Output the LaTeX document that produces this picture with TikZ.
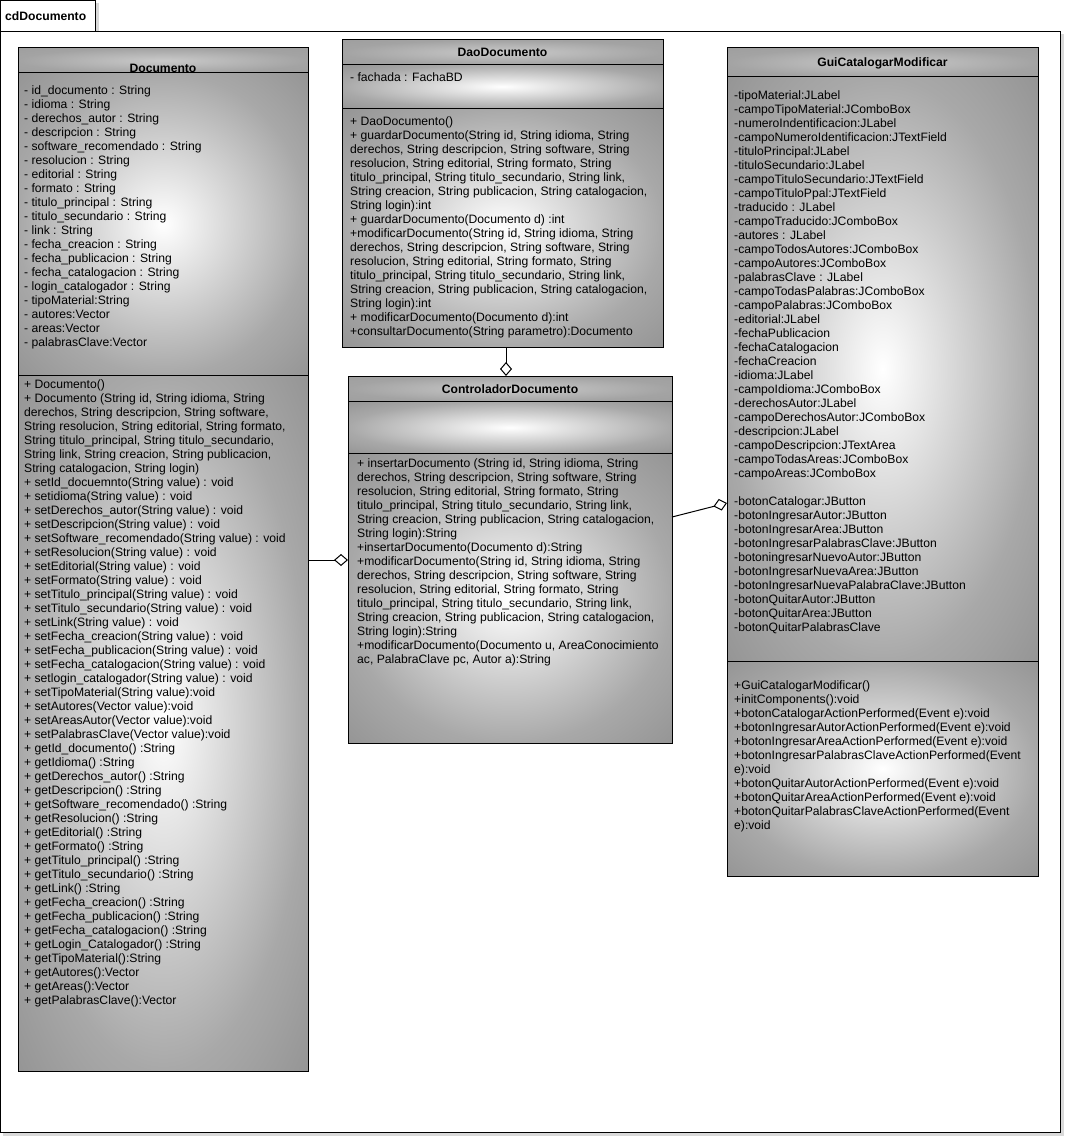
\documentclass[tikz,border=0pt]{standalone}
\usepackage{fontspec}
\setmainfont{Liberation Sans}
\usepackage{tikz}
\usetikzlibrary{arrows.meta,positioning}

\pgfdeclareradialshading{umlglow}{\pgfpoint{0bp}{0bp}}{color(0bp)=(white); color(25bp)=(gray!68); color(36bp)=(gray!84); color(50bp)=(gray!84)}
\pgfdeclareradialshading{umlhead}{\pgfpoint{0bp}{0bp}}{color(0bp)=(gray!42); color(25bp)=(gray!72); color(50bp)=(gray!80)}

\newcommand{\umlfont}{\fontsize{12.15}{14}\selectfont}
\newcommand{\lh}{\rule{0pt}{10pt}}

\tikzset{
    compart/.style={draw, line width=1pt, inner sep=0pt, outer sep=0pt, anchor=north west, shading=umlglow},
    headbox/.style={compart, shading=umlhead},
    members/.style={anchor=north west, inner sep=0pt, align=left, font=\umlfont},
    classname/.style={anchor=base, inner sep=0pt, font=\umlfont\bfseries},
    agg/.style={line width=1pt, -{Diamond[open, length=14pt, width=12pt]}}
}

\begin{document}
\begin{tikzpicture}[x=1pt, y=-1pt]
    \useasboundingbox (0,0) rectangle (1065,1137);
    % frame
    \fill[gray!30] (3,34) rectangle (1064,1136);
    \fill[gray!30] (3,3) rectangle (99,34);
    \draw[line width=1pt, fill=white] (0.5,31.5) rectangle (1060.5,1132.5);
    \draw[line width=1pt, fill=white] (0.5,0.5) rectangle (95.5,31.5);
    \node[anchor=west, inner sep=0pt, font=\umlfont\bfseries] (frameName) at (5,16) {cdDocumento};

    % Documento
    \node[headbox, minimum width=290pt, minimum height=25pt] (docHead) at (18,48) {};
    \node[compart, minimum width=290pt, minimum height=302pt] (docAttr) at (18,73) {};
    \node[compart, minimum width=290pt, minimum height=696pt] (docOps) at (18,375) {};
    \node[classname] (docName) at (163,72.3) {Documento};
    \node[members] (docAttrText) at (24,84) {\lh- id\_documento : String\\
        - idioma : String\\
        - derechos\_autor : String\\
        - descripcion : String\\
        - software\_recomendado : String\\
        - resolucion : String\\
        - editorial : String\\
        - formato : String\\
        - titulo\_principal : String\\
        - titulo\_secundario : String\\
        - link : String\\
        - fecha\_creacion : String\\
        - fecha\_publicacion : String\\
        - fecha\_catalogacion : String\\
        - login\_catalogador : String\\
        - tipoMaterial:String\\
        - autores:Vector\\
        - areas:Vector\\
        - palabrasClave:Vector};
    \node[members] (docOpsText) at (24,378) {\lh+ Documento()\\
        + Documento (String id, String idioma, String\\
        derechos, String descripcion, String software,\\
        String resolucion, String editorial, String formato,\\
        String titulo\_principal, String titulo\_secundario,\\
        String link, String creacion, String publicacion,\\
        String catalogacion, String login)\\
        + setId\_docuemnto(String value) : void\\
        + setidioma(String value) : void\\
        + setDerechos\_autor(String value) : void\\
        + setDescripcion(String value) : void\\
        + setSoftware\_recomendado(String value) : void\\
        + setResolucion(String value) : void\\
        + setEditorial(String value) : void\\
        + setFormato(String value) : void\\
        + setTitulo\_principal(String value) : void\\
        + setTitulo\_secundario(String value) : void\\
        + setLink(String value) : void\\
        + setFecha\_creacion(String value) : void\\
        + setFecha\_publicacion(String value) : void\\
        + setFecha\_catalogacion(String value) : void\\
        + setlogin\_catalogador(String value) : void\\
        + setTipoMaterial(String value):void\\
        + setAutores(Vector value):void\\
        + setAreasAutor(Vector value):void\\
        + setPalabrasClave(Vector value):void\\
        + getId\_documento() :String\\
        + getIdioma() :String\\
        + getDerechos\_autor() :String\\
        + getDescripcion() :String\\
        + getSoftware\_recomendado() :String\\
        + getResolucion() :String\\
        + getEditorial() :String\\
        + getFormato() :String\\
        + getTitulo\_principal() :String\\
        + getTitulo\_secundario() :String\\
        + getLink() :String\\
        + getFecha\_creacion() :String\\
        + getFecha\_publicacion() :String\\
        + getFecha\_catalogacion() :String\\
        + getLogin\_Catalogador() :String\\
        + getTipoMaterial():String\\
        + getAutores():Vector\\
        + getAreas():Vector\\
        + getPalabrasClave():Vector};

    % DaoDocumento
    \node[headbox, minimum width=321pt, minimum height=24.5pt] (daoHead) at (342,40) {};
    \node[compart, minimum width=321pt, minimum height=44pt] (daoAttr) at (342,64.5) {};
    \node[compart, minimum width=321pt, minimum height=238.5pt] (daoOps) at (342,108.5) {};
    \node[classname] (daoName) at (502.5,56.8) {DaoDocumento};
    \node[members] (daoAttrText) at (350,71) {\lh- fachada : FachaBD};
    \node[members] (daoOpsText) at (350,115) {\lh+ DaoDocumento()\\
        + guardarDocumento(String id, String idioma, String\\
        derechos, String descripcion, String software, String\\
        resolucion, String editorial, String formato, String\\
        titulo\_principal, String titulo\_secundario, String link,\\
        String creacion, String publicacion, String catalogacion,\\
        String login):int\\
        + guardarDocumento(Documento d) :int\\
        +modificarDocumento(String id, String idioma, String\\
        derechos, String descripcion, String software, String\\
        resolucion, String editorial, String formato, String\\
        titulo\_principal, String titulo\_secundario, String link,\\
        String creacion, String publicacion, String catalogacion,\\
        String login):int\\
        + modificarDocumento(Documento d):int\\
        +consultarDocumento(String parametro):Documento};

    % ControladorDocumento
    \node[headbox, minimum width=324pt, minimum height=25.5pt] (ctrlHead) at (348,376) {};
    \node[compart, minimum width=324pt, minimum height=52pt] (ctrlAttr) at (348,401.5) {};
    \node[compart, minimum width=324pt, minimum height=289.5pt] (ctrlOps) at (348,453.5) {};
    \node[classname] (ctrlName) at (510,393.5) {ControladorDocumento};
    \node[members] (ctrlOpsText) at (357,457) {\lh+ insertarDocumento (String id, String idioma, String\\
        derechos, String descripcion, String software, String\\
        resolucion, String editorial, String formato, String\\
        titulo\_principal, String titulo\_secundario, String link,\\
        String creacion, String publicacion, String catalogacion,\\
        String login):String\\
        +insertarDocumento(Documento d):String\\
        +modificarDocumento(String id, String idioma, String\\
        derechos, String descripcion, String software, String\\
        resolucion, String editorial, String formato, String\\
        titulo\_principal, String titulo\_secundario, String link,\\
        String creacion, String publicacion, String catalogacion,\\
        String login):String\\
        +modificarDocumento(Documento u, AreaConocimiento\\
        ac, PalabraClave pc, Autor a):String};

    % GuiCatalogarModificar
    \node[headbox, minimum width=311pt, minimum height=29pt] (guiHead) at (727,48) {};
    \node[compart, minimum width=311pt, minimum height=584pt] (guiAttr) at (727,77) {};
    \node[compart, minimum width=311pt, minimum height=215pt] (guiOps) at (727,661) {};
    \node[classname] (guiName) at (882.5,67) {GuiCatalogarModificar};
    \node[members] (guiAttrText) at (734,89) {\lh-tipoMaterial:JLabel\\
        -campoTipoMaterial:JComboBox\\
        -numeroIndentificacion:JLabel\\
        -campoNumeroIdentificacion:JTextField\\
        -tituloPrincipal:JLabel\\
        -tituloSecundario:JLabel\\
        -campoTituloSecundario:JTextField\\
        -campoTituloPpal:JTextField\\
        -traducido : JLabel\\
        -campoTraducido:JComboBox\\
        -autores : JLabel\\
        -campoTodosAutores:JComboBox\\
        -campoAutores:JComboBox\\
        -palabrasClave : JLabel\\
        -campoTodasPalabras:JComboBox\\
        -campoPalabras:JComboBox\\
        -editorial:JLabel\\
        -fechaPublicacion\\
        -fechaCatalogacion\\
        -fechaCreacion\\
        -idioma:JLabel\\
        -campoIdioma:JComboBox\\
        -derechosAutor:JLabel\\
        -campoDerechosAutor:JComboBox\\
        -descripcion:JLabel\\
        -campoDescripcion:JTextArea\\
        -campoTodasAreas:JComboBox\\
        -campoAreas:JComboBox\\[14pt]
        -botonCatalogar:JButton\\
        -botonIngresarAutor:JButton\\
        -botonIngresarArea:JButton\\
        -botonIngresarPalabrasClave:JButton\\
        -botoningresarNuevoAutor:JButton\\
        -botonIngresarNuevaArea:JButton\\
        -botonIngresarNuevaPalabraClave:JButton\\
        -botonQuitarAutor:JButton\\
        -botonQuitarArea:JButton\\
        -botonQuitarPalabrasClave};
    \node[members] (guiOpsText) at (734,679) {\lh+GuiCatalogarModificar()\\
        +initComponents():void\\
        +botonCatalogarActionPerformed(Event e):void\\
        +botonIngresarAutorActionPerformed(Event e):void\\
        +botonIngresarAreaActionPerformed(Event e):void\\
        +botonIngresarPalabrasClaveActionPerformed(Event\\
        e):void\\
        +botonQuitarAutorActionPerformed(Event e):void\\
        +botonQuitarAreaActionPerformed(Event e):void\\
        +botonQuitarPalabrasClaveActionPerformed(Event\\
        e):void};

    % aggregations
    \coordinate (daoLink) at (506,0);
    \coordinate (docLink) at (0,560);
    \coordinate (guiLinkA) at (0,517);
    \coordinate (guiLinkB) at (0,503);
    \draw[agg] (daoOps.south -| daoLink) -- (ctrlHead.north -| daoLink);
    \draw[agg] (docOps.east |- docLink) -- (ctrlOps.west |- docLink);
    \draw[agg] (ctrlOps.east |- guiLinkA) -- (guiAttr.west |- guiLinkB);
\end{tikzpicture}
\end{document}
